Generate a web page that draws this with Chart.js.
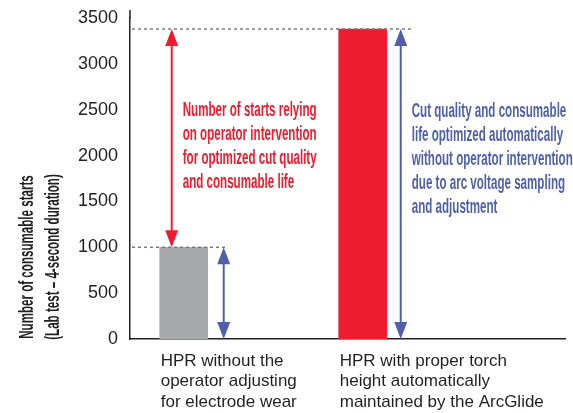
<!DOCTYPE html>
<html><head><meta charset="utf-8">
<script src="https://cdn.jsdelivr.net/npm/chart.js@4.4.1/dist/chart.umd.min.js"></script>
<style>html,body{margin:0;padding:0;background:#fff;}#wrap{width:573px;height:413px;}</style>
</head><body><div id="wrap"><canvas id="c" width="573" height="413"></canvas></div>
<script>
const categories = [
  ['HPR without the', 'operator adjusting', 'for electrode wear'],
  ['HPR with proper torch', 'height automatically', 'maintained by the ArcGlide']
];
const startsValues = [1000, 3380];
const barColors = ['#a7a9ac', '#ed1c2e'];
const yTicks = [0, 500, 1000, 1500, 2000, 2500, 3000, 3500];
const yTitleLines = ['Number of consumable starts', '(Lab test – 4-second duration)'];
const redNote = ['Number of starts relying', 'on operator intervention', 'for optimized cut quality', 'and consumable life'];
const blueNote = ['Cut quality and consumable', 'life optimized automatically', 'without operator intervention', 'due to arc voltage sampling', 'and adjustment'];

const DARK = '#231f20', RED = '#ed1c2e', BLUE = '#4f5fa9';
const NOTE_FONT = 'bold 20px "Liberation Sans", Arial, sans-serif';

function condensedText(ctx, text, x, y, sx, rot) {
  ctx.save();
  ctx.translate(x, y);
  if (rot) ctx.rotate(rot);
  ctx.scale(sx, 1);
  ctx.fillText(text, 0, 0);
  ctx.restore();
}
function arrowHead(ctx, x, y, dir, color) {
  ctx.fillStyle = color;
  ctx.beginPath();
  ctx.moveTo(x, y);
  ctx.lineTo(x - 6.5, y + dir * 17);
  ctx.lineTo(x + 6.5, y + dir * 17);
  ctx.closePath();
  ctx.fill();
}
function doubleArrow(ctx, x, yTop, yBot, color) {
  ctx.strokeStyle = color; ctx.lineWidth = 2;
  ctx.beginPath(); ctx.moveTo(x, yTop + 10); ctx.lineTo(x, yBot - 10); ctx.stroke();
  arrowHead(ctx, x, yTop, 1, color);
  arrowHead(ctx, x, yBot, -1, color);
}
function dashed(ctx, x1, x2, y) {
  ctx.save();
  ctx.strokeStyle = '#7a7a7a'; ctx.lineWidth = 1.5; ctx.setLineDash([3, 3]);
  ctx.beginPath(); ctx.moveTo(x1, y); ctx.lineTo(x2, y); ctx.stroke();
  ctx.restore();
}

const notesPlugin = {
  id: 'notes',
  afterDatasetsDraw(chart) {
    const ctx = chart.ctx, y = chart.scales.y, area = chart.chartArea;
    const bars = chart.getDatasetMeta(0).data;
    const g = bars[0], r = bars[1];
    const yLow = y.getPixelForValue(startsValues[0]);
    const yHigh = y.getPixelForValue(startsValues[1]);
    const yZero = y.getPixelForValue(0);
    ctx.save();
    ctx.strokeStyle = DARK; ctx.lineWidth = 1.5;
    ctx.beginPath(); ctx.moveTo(area.left, area.top - 8); ctx.lineTo(area.left, area.top); ctx.stroke();
    dashed(ctx, area.left + 2, g.x + 44, yLow);
    dashed(ctx, area.left + 2, r.x + 49, yHigh);
    doubleArrow(ctx, g.x - 12, yHigh, yLow, RED);
    doubleArrow(ctx, g.x + 40, yLow, yZero, BLUE);
    doubleArrow(ctx, r.x + 38, yHigh, yZero, BLUE);
    ctx.font = NOTE_FONT;
    ctx.textBaseline = 'middle'; ctx.textAlign = 'left';
    const sx = 134 / ctx.measureText(redNote[0]).width;
    ctx.fillStyle = RED;
    redNote.forEach((t, i) => condensedText(ctx, t, g.x - 1, 110 + i * 24.2, sx));
    ctx.fillStyle = BLUE;
    blueNote.forEach((t, i) => condensedText(ctx, t, r.x + 49, 111 + i * 24, sx));
    ctx.fillStyle = DARK; ctx.textAlign = 'center';
    yTitleLines.forEach((t, i) => condensedText(ctx, t, 27 + i * 26, 257, sx, -Math.PI / 2));
    ctx.font = '17px "Liberation Sans", Arial, sans-serif';
    ctx.textAlign = 'left'; ctx.fillStyle = DARK;
    bars.forEach((b, k) => {
      categories[k].forEach((t, i) => ctx.fillText(t, b.x - b.width / 2 + 1, 361 + i * 20.5));
    });
    ctx.restore();
  }
};

new Chart(document.getElementById('c'), {
  type: 'bar',
  data: {
    datasets: [{
      data: startsValues.map((v, i) => ({ x: i, y: v })),
      backgroundColor: barColors,
      barThickness: 48,
      borderWidth: 0
    }]
  },
  options: {
    responsive: false,
    animation: false,
    layout: { padding: { top: 18, right: 8, bottom: 74, left: 0 } },
    plugins: { legend: { display: false }, tooltip: { enabled: false } },
    scales: {
      x: {
        type: 'linear', min: -0.3, max: 2.13, offset: false,
        grid: { display: false, drawTicks: false },
        border: { display: true, color: DARK, width: 1.5 },
        ticks: { display: false }
      },
      y: {
        min: 0, max: 3500,
        afterBuildTicks(s) { s.ticks = yTicks.map(v => ({ value: v })); },
        afterFit(s) { s.width = 130; s.paddingTop = 0; s.paddingBottom = 0; },
        grid: { display: false, drawTicks: false },
        border: { display: true, color: DARK, width: 1.5 },
        ticks: { padding: 12, color: DARK, callback: v => String(v),
          font: { size: 18, family: '"Liberation Sans", Arial, sans-serif' } }
      }
    }
  },
  plugins: [notesPlugin]
});
</script></body></html>
